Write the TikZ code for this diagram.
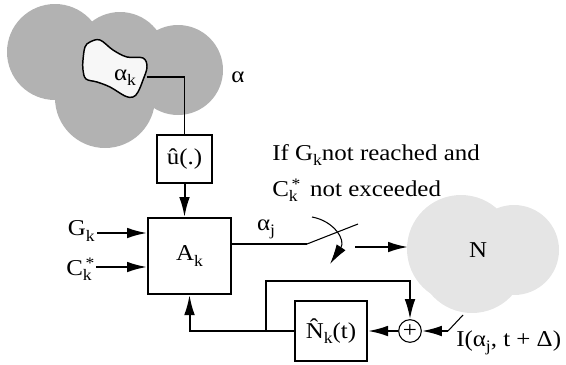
\documentclass[tikz,border=0pt]{standalone}
\usepackage{fontspec}
\setmainfont[FakeStretch=1.1]{Liberation Serif}
\usetikzlibrary{arrows.meta,positioning}
\definecolor{alphagray}{gray}{0.70}
\definecolor{ngray}{gray}{0.90}
\definecolor{blobwhite}{gray}{0.97}
\newcommand{\idx}[1]{\raisebox{-0.5ex}{\fontsize{12}{12}\selectfont #1}}
\newcommand{\idxstar}[1]{\makebox[0pt][l]{\raisebox{0.7ex}{\fontsize{12}{12}\selectfont\,*}}\raisebox{-0.5ex}{\fontsize{12}{12}\selectfont #1}}
\tikzset{
  blockbox/.style={draw, line width=1.5pt, inner sep=0pt},
  wire/.style={line width=1.5pt},
  thinwire/.style={line width=0.8pt},
  lbl/.style={inner sep=0pt}
}
\begin{document}
\begin{tikzpicture}[>={Latex[length=15pt,width=8pt]}, x=0.75pt, y=-0.75pt, font=\fontsize{17}{19}\selectfont]
\useasboundingbox (0,0) rectangle (566,364);
% Region alpha
\fill[alphagray] (55,52) circle[radius=36pt] (120,58) circle[radius=34.5pt] (178,70) circle[radius=33.75pt] (105,98) circle[radius=37.5pt];
\node (alpha) at (238,77) {α};
\draw[line width=1.1pt, fill=blobwhite] plot[smooth cycle, tension=0.6] coordinates {(90,42) (100,40) (113,50) (127,57) (143,58) (147,67) (143,80) (138,92) (133,97) (125,96) (110,87) (97,82) (86,79) (83,70) (83,60) (85,47)};
\node (alphak) at (125,78) {α\idx{k}};
\coordinate (akout) at (147,77);
% Controller
\node[blockbox, minimum width=41.25pt, minimum height=36pt] (ublock) at (184.5,159) {û(.)};
\node[blockbox, minimum width=62.25pt, minimum height=57pt] (ablock) at (189.5,256) {A\idx{k}};
\draw[thinwire] (akout) -| (ublock.north);
\draw[wire,->] (ublock.south) -- (ublock.south |- ablock.north);
\node[lbl, anchor=east] (gk) at (95,231) {G\idx{k}};
\node[lbl, anchor=east] (ck) at (92,269) {C\idxstar{k}};
\draw[wire,->] (gk.east) ++(2,2) -- (ablock.west |- 0,233);
\draw[wire,->] (ck.east) ++(4,-2) -- (ablock.west |- 0,267);
% Switch
\node[lbl] (alphaj) at (266,229) {α\idx{j}};
\coordinate (swpivot) at (307,244);
\coordinate (swend) at (358,224);
\draw[wire] (ablock.east |- swpivot) -- (swpivot);
\draw[thinwire] (swpivot) -- (swend);
\coordinate (bendin) at (312,217);
\coordinate (bendout) at (330,264);
\draw[thinwire,->] (bendin) .. controls (334,221) and (346,240) .. (bendout);
\node[lbl, anchor=west] (condi) at (272,155) {If G\idx{k}not reached and};
\node[lbl, anchor=west] (condii) at (272,190) {C\idxstar{k}\ \ not exceeded};
% Network N
\fill[ngray] (461,249) circle[radius=40.5pt] (514,250) circle[radius=33.75pt] (472,259) circle[radius=40.5pt];
\node (nlabel) at (478,250) {N};
\coordinate (swout) at (355,247);
\coordinate (nin) at (408,247);
\draw[wire,->] (swout) -- (nin);
% Feedback
\node[blockbox, minimum width=54pt, minimum height=45pt] (nkblock) at (331,331) {\^{N}\idx{k}(t)};
\node[draw, circle, line width=0.8pt, minimum size=17pt, inner sep=0pt] (sum) at (410,331) {+};
\draw[wire,->] (nkblock.west) -| (ablock.south);
\coordinate (tap) at (266,331);
\coordinate (looptop) at (266,281);
\draw[wire,->] (tap) -- (looptop) -| (sum.north);
\draw[wire,->] (sum.west) -- (nkblock.east);
\coordinate (nout) at (463,315);
\coordinate (nkink) at (448,331);
\draw[thinwire] (nout) -- (nkink);
\draw[wire,->] (nkink) -- (sum.east);
\node[lbl, anchor=west] (ilabel) at (456,343) {I(α\idx{j}, t + Δ)};
\end{tikzpicture}
\end{document}
